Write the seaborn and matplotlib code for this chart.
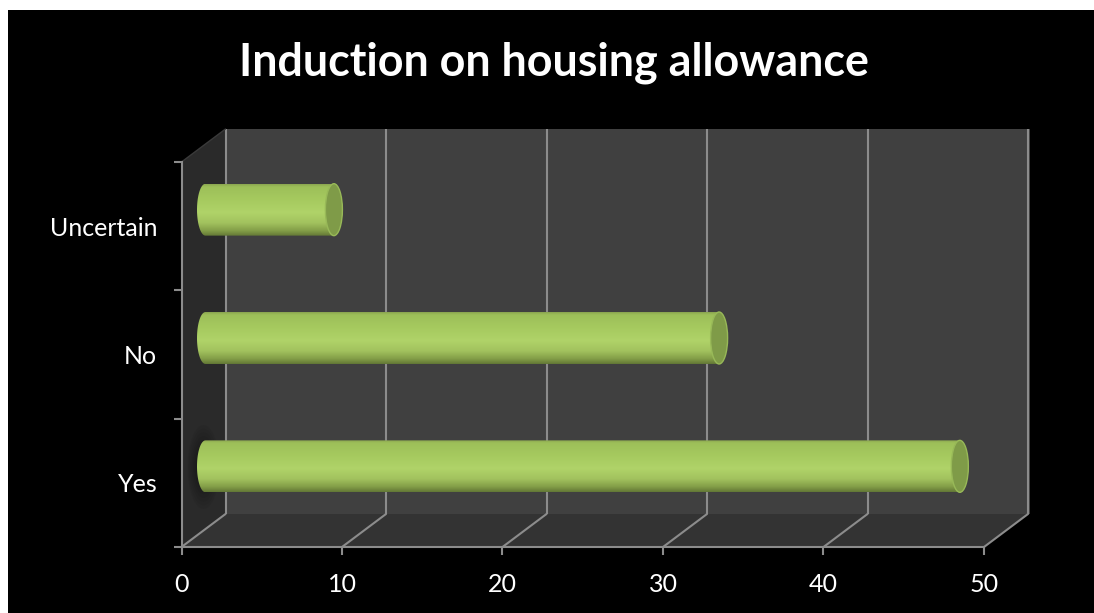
import numpy as np
import pandas as pd
import matplotlib
matplotlib.use("Agg")
import matplotlib.pyplot as plt
from matplotlib.colors import LinearSegmentedColormap
from matplotlib.patches import Ellipse, Polygon, Rectangle
from matplotlib.path import Path
import seaborn as sns

title = "Induction on housing allowance"
categories = ["Uncertain", "No", "Yes"]
values = [8, 32, 47]
x_ticks = [0, 10, 20, 30, 40, 50]

W, H = 1094, 613
FX0, FX1, FY0, FY1 = 181.5, 984.0, 547.0, 162.0   # front plane (pixels)
DX, DY = 44.0, -33.0                              # depth of the 3-D box
BAR_DX, BAR_DY = 24.0, -16.5
GRID = "#8c8c8c"
FONT = "Lato"

sns.set_theme(style="white")
plt.rcParams["font.family"] = [FONT, "DejaVu Sans"]

fig = plt.figure(figsize=(W / 100, H / 100), dpi=100, facecolor="white")

def place(x0, x1, ytop, ybot, **kw):
    return fig.add_axes([x0 / W, 1 - ybot / H, (x1 - x0) / W, (ybot - ytop) / H], **kw)

# backdrop in pixel coordinates
bg = fig.add_axes([0, 0, 1, 1], zorder=0)
bg.set_xlim(0, W)
bg.set_ylim(H, 0)
bg.axis("off")
bg.add_patch(Rectangle((8, 10), W - 8, H - 10, color="black", lw=0))
bg.add_patch(Polygon([(FX0 + DX, FY1 + DY), (FX1 + DX + 2, FY1 + DY), (FX1 + DX + 2, FY0 + DY), (FX0 + DX, FY0 + DY)],
                     color="#404040", lw=0))
bg.add_patch(Polygon([(FX0, FY0), (FX0 + DX, FY0 + DY), (FX0 + DX, FY1 + DY), (FX0, FY1)], color="#2a2a2a", lw=0))
bg.add_patch(Polygon([(FX0, FY0), (FX1, FY0), (FX1 + DX, FY0 + DY), (FX0 + DX, FY0 + DY)], color="#333333", lw=0))
# soft shadow by the first bar's foot
for r in np.linspace(1, 0.2, 10):
    bg.add_patch(Ellipse((FX0 + 22, 467), 32 * r, 84 * r, color="black", alpha=0.05, lw=0))

px_per_unit = (FX1 - FX0) / (x_ticks[-1] - x_ticks[0])
for v in x_ticks:
    xf = FX0 + v * px_per_unit
    bg.plot([xf + DX, xf + DX], [FY1 + DY, FY0 + DY], color=GRID, lw=1.5, solid_capstyle="butt")
    bg.plot([xf, xf + DX], [FY0, FY0 + DY], color=GRID, lw=1.5)
bg.plot([FX0, FX0 + DX], [FY1, FY1 + DY], color="#3a3a3a", lw=1)

# front plane with the axes
ax = place(FX0, FX1, FY1, FY0, zorder=1)
ax.patch.set_alpha(0)
ax.set_xlim(x_ticks[0], x_ticks[-1])
ax.set_ylim(len(categories) - 0.5, -0.5)
ax.set_xticks(x_ticks)
ax.set_xticklabels([str(v) for v in x_ticks])
ax.set_yticks(range(len(categories)))
ax.set_yticklabels(categories)
ax.set_yticks(np.arange(len(categories) + 1) - 0.5, minor=True)
ax.tick_params(axis="y", which="major", length=0, pad=17.5, labelsize=18, labelcolor="white")
ax.tick_params(axis="y", which="minor", length=6, width=1.5, color=GRID, left=True)
ax.tick_params(axis="x", which="major", length=6, width=1.5, color=GRID, bottom=True, pad=13,
               labelsize=18, labelcolor="white")
for s in ("top", "right"):
    ax.spines[s].set_visible(False)
for s in ("left", "bottom"):
    ax.spines[s].set_color(GRID)
    ax.spines[s].set_linewidth(1.5)
ax.grid(False)

# cylinders, sitting mid-depth in the box
axb = place(FX0 + BAR_DX, FX1 + BAR_DX, FY1 + BAR_DY, FY0 + BAR_DY, zorder=2)
axb.patch.set_alpha(0)
df = pd.DataFrame({"category": categories, "value": values})
sns.barplot(data=df, x="value", y="category", order=categories, orient="h", width=0.405,
            color="#a4c85c", saturation=1, ax=axb)
axb.set_xlim(x_ticks[0], x_ticks[-1])
axb.set_ylim(len(categories) - 0.5, -0.5)
axb.axis("off")

body_cmap = LinearSegmentedColormap.from_list(
    "cyl",
    [(0.00, "#8ba650"), (0.05, "#9dbf59"), (0.30, "#a6ca5f"), (0.55, "#b0d369"),
     (0.75, "#a2c25e"), (0.90, "#839e48"), (1.00, "#637836")])
grad = np.linspace(0, 1, 128).reshape(-1, 1)
CAP = 8.5 / px_per_unit
theta = np.linspace(np.pi / 2, 3 * np.pi / 2, 60)
for bar in list(axb.patches):
    x, y, w, h = bar.get_x(), bar.get_y(), bar.get_width(), bar.get_height()
    bar.set_visible(False)
    arc_x = x + CAP * np.cos(theta)
    arc_y = y + h / 2 - h / 2 * np.sin(theta)
    outline = np.column_stack([np.r_[arc_x, x + w, x + w, arc_x[0]], np.r_[arc_y, y + h, y, arc_y[0]]])
    clip = Path(outline, closed=True)
    im = axb.imshow(grad, cmap=body_cmap, extent=(x - CAP, x + w, y + h, y), aspect="auto", zorder=3)
    im.set_clip_path(clip, transform=axb.transData)
    im.set_clip_box(fig.bbox)
    axb.add_patch(Ellipse((x + w, y + h / 2), 2 * CAP, h, facecolor="#7f9b48", edgecolor="#98b958",
                          lw=1.0, zorder=4))
axb.set_xlim(x_ticks[0], x_ticks[-1])
axb.set_ylim(len(categories) - 0.5, -0.5)

fig.text(554 / W, 1 - 63 / H, title, ha="center", va="center", color="white",
         fontsize=32.3, fontweight="bold")

fig.savefig("out.png", dpi=100, facecolor=fig.get_facecolor())
